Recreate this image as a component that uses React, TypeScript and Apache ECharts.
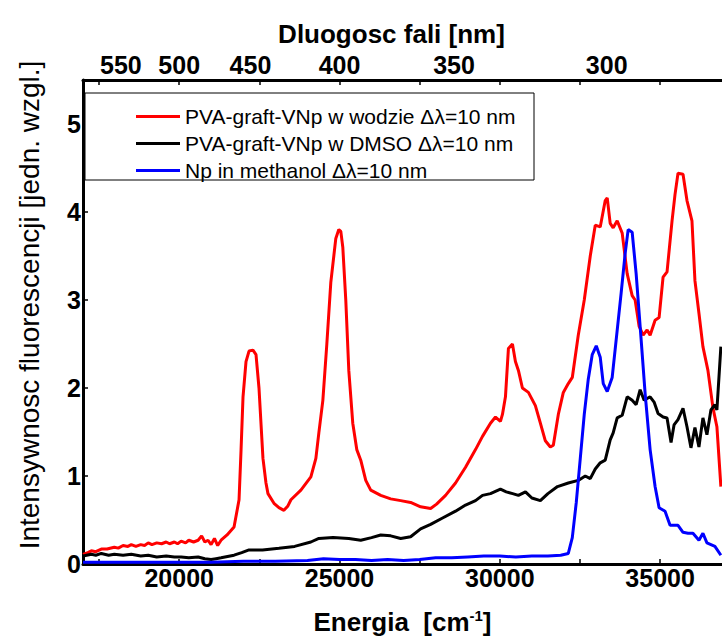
import React, { useEffect, useRef } from "react";
import * as echarts from "echarts";

const FONT = "'Liberation Sans', Arial, sans-serif";

const energyTicks = [17500, 20000, 22500, 25000, 27500, 30000, 32500, 35000];
const energyLabels = [20000, 25000, 30000, 35000];
const wavelengthLabels = [550, 500, 450, 400, 350, 300];
const intensityTicks = [0, 1, 2, 3, 4, 5];

const seriesNames = [
  "PVA-graft-VNp w wodzie \u0394\u03bb=10 nm",
  "PVA-graft-VNp w DMSO \u0394\u03bb=10 nm",
  "Np in methanol \u0394\u03bb=10 nm",
];
const seriesColors = ["#ff0000", "#000000", "#0000ff"];

const redData: [number, number][] = [
  [17000, 0.11], [17150, 0.13], [17261, 0.15], [17400, 0.14], [17572, 0.17],
  [17750, 0.17], [17977, 0.19], [18100, 0.18], [18250, 0.21], [18400, 0.2],
  [18506, 0.22], [18650, 0.2], [18800, 0.22], [18920, 0.21], [19035, 0.24],
  [19150, 0.22], [19300, 0.24], [19450, 0.23], [19595, 0.25], [19700, 0.23],
  [19850, 0.25], [19950, 0.23], [20062, 0.26], [20200, 0.24], [20300, 0.27],
  [20450, 0.25], [20591, 0.27], [20700, 0.32], [20800, 0.25], [20900, 0.27],
  [20995, 0.22], [21100, 0.29], [21200, 0.21], [21306, 0.27],
  [21493, 0.33], [21711, 0.42], [21867, 0.73], [21930, 1.3], [21991, 1.9],
  [22084, 2.3], [22178, 2.42], [22302, 2.43], [22396, 2.38], [22489, 2.0],
  [22613, 1.2], [22707, 0.92], [22769, 0.8], [22956, 0.69], [23111, 0.64],
  [23267, 0.61], [23391, 0.66], [23485, 0.73], [23796, 0.84], [24107, 0.99],
  [24263, 1.2], [24356, 1.49], [24481, 1.86], [24605, 2.5], [24729, 3.2],
  [24885, 3.7], [24978, 3.8], [25041, 3.78], [25103, 3.6], [25196, 3.0],
  [25290, 2.2], [25414, 1.6], [25539, 1.3], [25663, 1.18], [25819, 0.95],
  [25974, 0.84], [26286, 0.78], [26597, 0.74], [26908, 0.72], [27219, 0.7],
  [27530, 0.65], [27842, 0.63], [28028, 0.68], [28308, 0.78], [28619, 0.92],
  [28931, 1.1], [29242, 1.3], [29460, 1.45], [29709, 1.6], [29865, 1.67],
  [30020, 1.62], [30082, 1.7], [30176, 1.9], [30269, 2.45], [30394, 2.5],
  [30487, 2.3], [30580, 2.2], [30705, 2.0], [30892, 1.95], [31109, 1.8],
  [31265, 1.6], [31420, 1.4], [31576, 1.33], [31669, 1.35], [31825, 1.7],
  [31981, 1.95], [32136, 2.05], [32261, 2.12], [32447, 2.6], [32634, 3.0],
  [32821, 3.5], [32977, 3.85], [33132, 3.83], [33288, 4.13], [33350, 4.16],
  [33443, 3.87], [33536, 3.82], [33661, 3.9], [33817, 3.76], [33972, 3.3],
  [34128, 3.05], [34221, 3.0], [34346, 2.7], [34470, 2.6], [34594, 2.66],
  [34688, 2.6], [34843, 2.77], [34968, 2.8], [35092, 3.26], [35216, 3.32],
  [35372, 3.9], [35465, 4.2], [35558, 4.44], [35714, 4.43], [35838, 4.13],
  [35993, 3.9], [36086, 3.22], [36211, 2.85], [36335, 2.47], [36491, 2.2],
  [36646, 1.78], [36771, 1.56], [36895, 0.88],
];

const blackData: [number, number][] = [
  [17000, 0.09], [17261, 0.11], [17400, 0.1], [17572, 0.12], [17800, 0.1],
  [17977, 0.11], [18250, 0.1], [18506, 0.11], [18800, 0.09], [19035, 0.1],
  [19300, 0.08], [19595, 0.09], [19850, 0.08], [20062, 0.08], [20300, 0.07],
  [20591, 0.08], [20800, 0.06], [20995, 0.05], [21150, 0.06], [21306, 0.07],
  [21711, 0.1], [21950, 0.13], [22178, 0.16], [22600, 0.16], [23111, 0.18],
  [23600, 0.2], [24107, 0.25], [24356, 0.29], [24800, 0.3], [25290, 0.29],
  [25663, 0.27], [26000, 0.3], [26286, 0.33], [26597, 0.32], [26908, 0.29],
  [27219, 0.31], [27530, 0.4], [27842, 0.45], [28200, 0.52], [28619, 0.6],
  [28931, 0.67], [29242, 0.72], [29460, 0.78], [29709, 0.8], [30020, 0.85],
  [30200, 0.82], [30400, 0.8], [30580, 0.78], [30800, 0.82], [31000, 0.75],
  [31265, 0.72], [31500, 0.8], [31800, 0.88], [32136, 0.92], [32447, 0.95],
  [32665, 1.0], [32821, 0.97], [32977, 1.08], [33132, 1.15], [33288, 1.18],
  [33443, 1.41], [33536, 1.49], [33661, 1.66], [33817, 1.69], [33972, 1.9],
  [34128, 1.86], [34252, 1.81], [34377, 1.98], [34501, 1.86], [34688, 1.9],
  [34812, 1.84], [34936, 1.71], [35092, 1.67], [35216, 1.66], [35341, 1.38],
  [35434, 1.58], [35558, 1.64], [35714, 1.77], [35838, 1.56], [35962, 1.32],
  [36086, 1.55], [36211, 1.33], [36335, 1.66], [36460, 1.47], [36584, 1.75],
  [36709, 1.81], [36771, 1.75], [36895, 2.47],
];

const blueData: [number, number][] = [
  [17000, 0.02], [18000, 0.02], [19000, 0.02], [20000, 0.02], [21000, 0.02],
  [22000, 0.03], [23000, 0.03], [24000, 0.04], [24500, 0.06], [25000, 0.05],
  [25500, 0.05], [26000, 0.04], [26500, 0.05], [27000, 0.04], [27500, 0.05],
  [28000, 0.07], [28500, 0.07], [29000, 0.08], [29500, 0.09], [30000, 0.09],
  [30500, 0.08], [31000, 0.09], [31500, 0.09], [31900, 0.1], [32136, 0.12],
  [32261, 0.3], [32385, 0.7], [32510, 1.2], [32634, 1.7], [32759, 2.1],
  [32883, 2.38], [33008, 2.48], [33132, 2.35], [33226, 2.05], [33350, 1.96],
  [33505, 2.12], [33630, 2.55], [33785, 3.08], [33910, 3.53], [34003, 3.8],
  [34128, 3.77], [34252, 3.3], [34377, 2.7], [34532, 1.94], [34688, 1.3],
  [34843, 0.88], [34968, 0.64], [35154, 0.6], [35310, 0.44], [35558, 0.44],
  [35714, 0.36], [35869, 0.35], [36024, 0.35], [36211, 0.27], [36335, 0.35],
  [36460, 0.24], [36709, 0.2], [36895, 0.1],
];

const X_MIN = 17000;
const X_MAX = 36930;

export default function App() {
  const ref = useRef<HTMLDivElement>(null);
  useEffect(() => {
    if (!ref.current) return;
    const chart = echarts.init(ref.current, null, { renderer: "svg" });
    const axisLine = { show: true, lineStyle: { color: "#000", width: 3 } };
    const labelStyle = { color: "#000", fontFamily: FONT, fontWeight: "bold" as const, fontSize: 25 };
    const allData = [redData, blackData, blueData];
    chart.setOption({
      animation: false,
      backgroundColor: "#fff",
      grid: { left: 83, top: 80, right: 0, bottom: 76, containLabel: false },
      xAxis: [
        {
          type: "value",
          position: "bottom",
          min: X_MIN,
          max: X_MAX,
          axisLine,
          splitLine: { show: false },
          axisTick: { inside: true, length: 5, customValues: energyTicks, lineStyle: { color: "#000", width: 1.5 } },
          axisLabel: { ...labelStyle, margin: 1, customValues: energyLabels, formatter: (v: number) => String(v) },
          name: "Energia  [cm{sup|-1}]",
          nameLocation: "middle",
          nameGap: 44,
          nameTextStyle: {
            color: "#000", fontFamily: FONT, fontWeight: "bold", fontSize: 26,
            rich: { sup: { fontSize: 15, fontWeight: "bold", fontFamily: FONT, color: "#000", verticalAlign: "top", padding: [0, 0, 12, 0] } },
          },
        },
        {
          type: "value",
          position: "top",
          min: X_MIN,
          max: X_MAX,
          axisLine,
          splitLine: { show: false },
          axisTick: { inside: true, length: 5, customValues: energyTicks, lineStyle: { color: "#000", width: 1.5 } },
          axisLabel: {
            ...labelStyle,
            margin: 3,
            customValues: wavelengthLabels.map((w) => 1e7 / w),
            formatter: (v: number) => String(Math.round(1e7 / v)),
          },
          name: "Dluogosc fali [nm]",
          nameLocation: "middle",
          nameGap: 33,
          nameTextStyle: { color: "#000", fontFamily: FONT, fontWeight: "bold", fontSize: 26, padding: [0, 22, 0, 0] },
        },
      ],
      yAxis: {
        type: "value",
        min: 0,
        max: 5.5,
        interval: 1,
        axisLine,
        splitLine: { show: false },
        axisTick: { inside: true, length: 5, customValues: intensityTicks, lineStyle: { color: "#000", width: 1.5 } },
        axisLabel: { ...labelStyle, margin: 2, customValues: intensityTicks },
        name: "Intensywnosc fluorescencji [jedn. wzgl.]",
        nameLocation: "middle",
        nameGap: 40,
        nameRotate: 90,
        nameTextStyle: { color: "#000", fontFamily: FONT, fontSize: 28, padding: [0, 0, 0, 34] },
      },
      legend: {
        orient: "vertical",
        left: 131,
        top: 101,
        icon: "rect",
        itemWidth: 44,
        itemHeight: 3,
        itemGap: 6,
        z: 10,
        textStyle: { color: "#000", fontFamily: FONT, fontSize: 21, lineHeight: 21 },
        data: seriesNames,
      },
      graphic: [
        {
          type: "rect",
          z: 1,
          shape: { x: 85, y: 93, width: 449, height: 87 },
          style: { fill: "#fff", stroke: "#000", lineWidth: 1 },
        },
      ],
      series: seriesNames.map((name, i) => ({
        name,
        type: "line",
        xAxisIndex: 0,
        yAxisIndex: 0,
        symbol: "none",
        data: allData[i],
        lineStyle: { color: seriesColors[i], width: 3 },
        itemStyle: { color: seriesColors[i] },
        z: 3,
      })),
    });
    return () => chart.dispose();
  }, []);
  return (
    <div
      ref={ref}
      style={{ position: "fixed", left: 0, top: 0, width: 722, height: 640, background: "#fff" }}
    />
  );
}
